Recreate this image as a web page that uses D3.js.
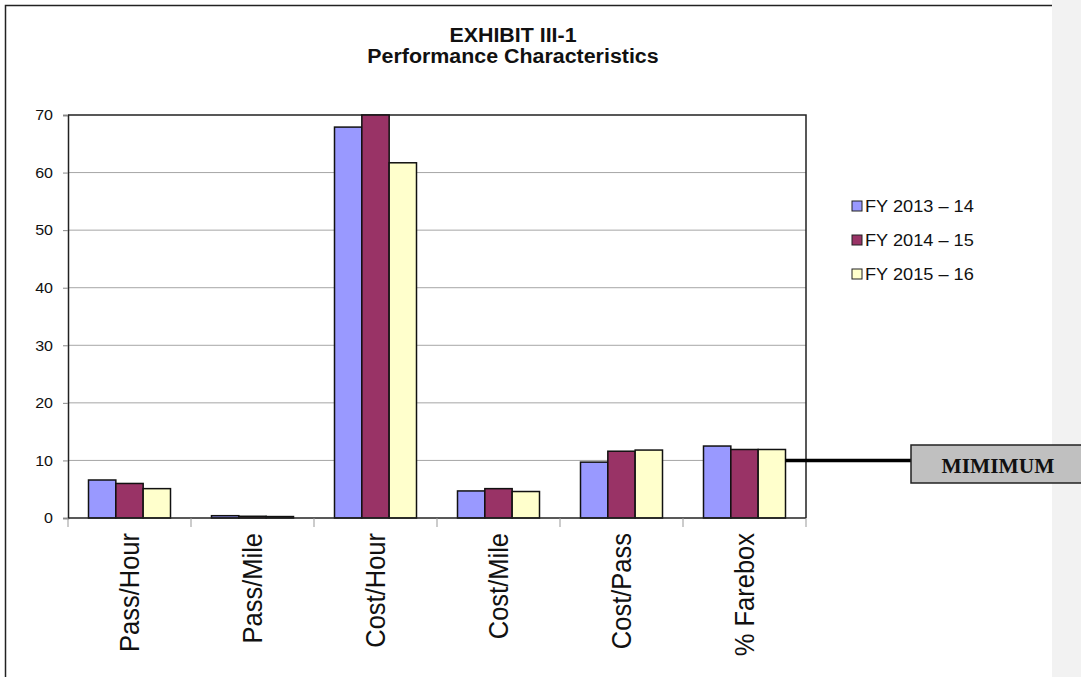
<!DOCTYPE html>
<html>
<head>
<meta charset="utf-8">
<script src="https://cdn.jsdelivr.net/npm/d3@7"></script>
<style>
  body { margin: 0; background: #fff; }
  svg { display: block; }
</style>
</head>
<body>
<div id="chart"></div>
<script>
// chart data
const categories = ["Pass/Hour", "Pass/Mile", "Cost/Hour", "Cost/Mile", "Cost/Pass", "% Farebox"];
const seriesNames = ["FY 2013 \u2013 14", "FY 2014 \u2013 15", "FY 2015 \u2013 16"];
const fy1314 = [6.6, 0.4, 67.9, 4.7, 9.7, 12.5];
const fy1415 = [6.0, 0.3, 73.0, 5.1, 11.6, 11.9];
const fy1516 = [5.1, 0.25, 61.7, 4.6, 11.8, 11.9];
const yTicks = [0, 10, 20, 30, 40, 50, 60, 70];
const minimumValue = 10;
const minimumLabel = "MIMIMUM";

const colors = ["#9999ff", "#993366", "#ffffcc"];
const SX = 1.07; // the source text is a bit wide, stretch it slightly
const sans = "Liberation Sans, Arial, sans-serif";

const W = 1081, H = 677;
const margin = { left: 68, right: 275, top: 115, bottom: 159 };

const svg = d3.select("#chart").append("svg")
    .attr("width", W)
    .attr("height", H);

// grey strip on the right side of the page
svg.append("rect")
    .attr("x", 1052).attr("y", 0)
    .attr("width", W - 1052).attr("height", H)
    .attr("fill", "#f2f2f2");

// outer frame (left + top edges visible)
svg.append("path")
    .attr("d", `M5.5,${H} V5.5 H1052`)
    .attr("fill", "none")
    .attr("stroke", "#222")
    .attr("stroke-width", 1.5);

const x0 = d3.scaleBand()
    .domain(categories)
    .range([margin.left, W - margin.right])
    .padding(0);

const x1 = d3.scaleBand()
    .domain(seriesNames)
    .range([0, x0.bandwidth()])
    .paddingInner(0)
    .paddingOuter(0.75);

const y = d3.scaleLinear()
    .domain([0, 70])
    .range([H - margin.bottom, margin.top])
    .clamp(true);

const plotL = margin.left, plotR = W - margin.right;
const plotT = margin.top, plotB = H - margin.bottom;

// gridlines
svg.append("g")
    .selectAll("line")
    .data(yTicks.filter(d => d > 0 && d < 70))
    .enter()
    .append("line")
    .attr("x1", plotL).attr("x2", plotR)
    .attr("y1", d => y(d)).attr("y2", d => y(d))
    .attr("stroke", "#a6a6a6")
    .attr("stroke-width", 1);

// plot area top/right border
svg.append("path")
    .attr("d", `M${plotL},${plotT} H${plotR} V${plotB}`)
    .attr("fill", "none")
    .attr("stroke", "#222")
    .attr("stroke-width", 1.5);

// bars
const series = [fy1314, fy1415, fy1516];
const groups = svg.append("g")
    .selectAll("g")
    .data(categories)
    .enter()
    .append("g")
    .attr("transform", d => `translate(${x0(d)},0)`);

groups.selectAll("rect")
    .data((c, ci) => seriesNames.map((s, si) => ({ s, si, v: series[si][ci] })))
    .enter()
    .append("rect")
    .attr("x", d => x1(d.s))
    .attr("width", x1.bandwidth())
    .attr("y", d => y(d.v))
    .attr("height", d => y(0) - y(d.v))
    .attr("fill", d => colors[d.si])
    .attr("stroke", "#111")
    .attr("stroke-width", 1.5);

// y axis
const yAxis = svg.append("g")
    .attr("transform", `translate(${plotL},0)`)
    .call(d3.axisLeft(y).tickValues(yTicks).tickSize(5).tickPadding(9));
yAxis.select(".domain").attr("stroke", "#222").attr("stroke-width", 1.5);
yAxis.selectAll(".tick line").attr("stroke", "#888");
yAxis.selectAll(".tick text")
    .attr("transform", `scale(${SX},1)`)
    .attr("font-family", sans)
    .attr("font-size", 15)
    .attr("fill", "#111");

// x axis line
svg.append("line")
    .attr("x1", plotL).attr("x2", plotR)
    .attr("y1", plotB).attr("y2", plotB)
    .attr("stroke", "#222").attr("stroke-width", 1.5);

// tick marks at band boundaries
const bounds = categories.map(c => x0(c)).concat([x0(categories[categories.length - 1]) + x0.bandwidth()]);
svg.append("g")
    .selectAll("line")
    .data(bounds)
    .enter()
    .append("line")
    .attr("x1", d => d).attr("x2", d => d)
    .attr("y1", plotB).attr("y2", plotB + 9)
    .attr("stroke", "#999");

// rotated category labels
svg.append("g")
    .selectAll("text")
    .data(categories)
    .enter()
    .append("text")
    .attr("transform", d => `translate(${x0(d) + x0.bandwidth() / 2},${plotB + 15}) scale(${SX},1) rotate(-90)`)
    .attr("text-anchor", "end")
    .attr("dy", "0.35em")
    .attr("font-family", sans)
    .attr("font-size", 25.5)
    .attr("fill", "#111")
    .text(d => d);

// title (centred on the chart area, not the plot)
const titleX = 513;
const titleLines = ["EXHIBIT III-1", "Performance Characteristics"];
svg.append("g")
    .selectAll("text")
    .data(titleLines)
    .enter()
    .append("text")
    .attr("transform", (d, i) => `translate(${titleX},${42 + i * 21}) scale(${SX},1)`)
    .attr("text-anchor", "middle")
    .attr("font-family", sans)
    .attr("font-weight", "bold")
    .attr("font-size", 20)
    .attr("fill", "#111")
    .text(d => d);

// legend
const legend = svg.append("g")
    .selectAll("g")
    .data(seriesNames)
    .enter()
    .append("g")
    .attr("transform", (d, i) => `translate(852,${206 + i * 34})`);
legend.append("rect")
    .attr("x", 0).attr("y", -5)
    .attr("width", 10).attr("height", 10)
    .attr("fill", (d, i) => colors[i])
    .attr("stroke", "#222")
    .attr("stroke-width", 1);
legend.append("text")
    .attr("transform", `translate(13,0) scale(${SX},1)`)
    .attr("dy", "0.36em")
    .attr("font-family", sans)
    .attr("font-size", 17)
    .attr("fill", "#111")
    .text(d => d);

// minimum marker line + label box
const lastCat = categories[categories.length - 1];
const lineStart = x0(lastCat) + x1(seriesNames[2]) + x1.bandwidth();
svg.append("line")
    .attr("x1", lineStart).attr("x2", 911)
    .attr("y1", y(minimumValue)).attr("y2", y(minimumValue))
    .attr("stroke", "#000")
    .attr("stroke-width", 3.5);
svg.append("rect")
    .attr("x", 911).attr("y", 445)
    .attr("width", 190).attr("height", 38)
    .attr("fill", "#c0c0c0")
    .attr("stroke", "#222")
    .attr("stroke-width", 1.5);
svg.append("text")
    .attr("transform", `translate(998,466) scale(${SX},1)`)
    .attr("dy", "0.35em")
    .attr("text-anchor", "middle")
    .attr("font-family", "Liberation Serif, Times New Roman, serif")
    .attr("font-weight", "bold")
    .attr("font-size", 20)
    .attr("fill", "#111")
    .text(minimumLabel);
</script>
</body>
</html>
